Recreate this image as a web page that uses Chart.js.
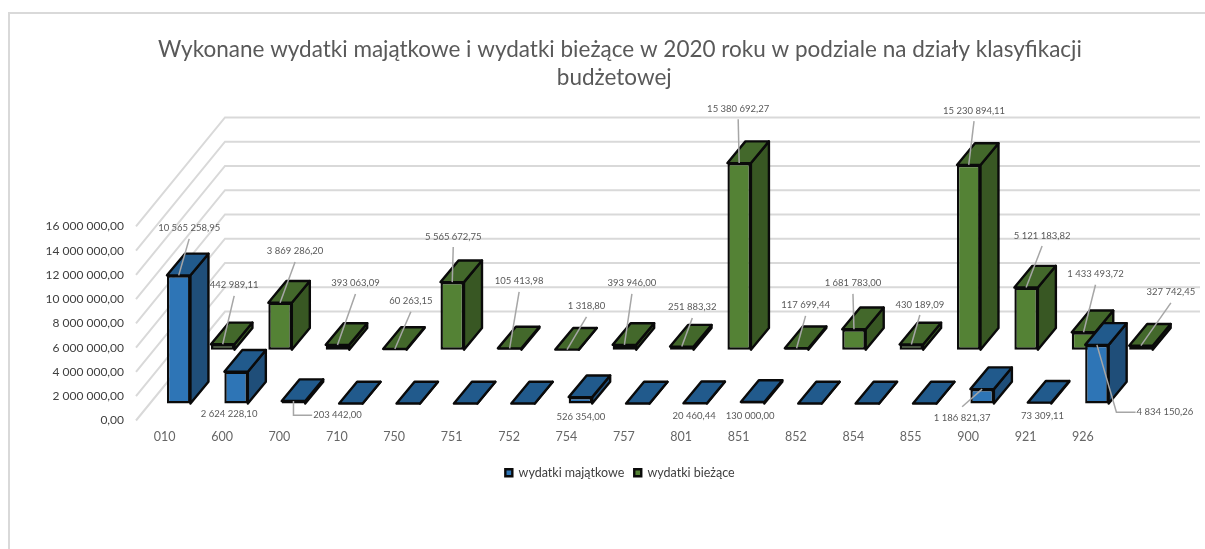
<!DOCTYPE html>
<html lang="pl">
<head>
<meta charset="utf-8">
<title>Wydatki 2020</title>
<style>
    html, body { margin: 0; padding: 0; background: #fff; }
    #frame { position: absolute; left: 8px; top: 12px; right: 0; bottom: 0; border-left: 2px solid #d9d9d9; border-top: 2px solid #d9d9d9; }
    #chart { position: absolute; left: 0; top: 0; }
</style>
<script src="https://cdn.jsdelivr.net/npm/chart.js@4"></script>
</head>
<body>
<div id="frame"></div>
<canvas id="chart" width="1205" height="549"></canvas>
<script>
const categories = ['010', '600', '700', '710', '750', '751', '752', '754', '757', '801', '851', '852', '854', '855', '900', '921', '926'];
const valueTicks = [0, 2000000, 4000000, 6000000, 8000000, 10000000, 12000000, 14000000, 16000000];

const wydatkiMajatkowe = [10565258.95, 2624228.10, 203442.00, 0, 0, 0, 0, 526354.00, 0, 20460.44, 130000.00, 0, 0, 0, 1186821.37, 73309.11, 4834150.26];
const wydatkiBiezace = [442989.11, 3869286.20, 393063.09, 60263.15, 5565672.75, 105413.98, 1318.80, 393946.00, 251883.32, 15380692.27, 117699.44, 1681783.00, 430189.09, 15230894.11, 5121183.82, 1433493.72, 327742.45];

// Where each value label sits, relative to the top of its bar: [dx, dy, leader, bend]
const majatkoweLabelSpots = [
    [10.5, -47, 'line'], [-7, 42.6], [44, 14.2, 'elbow', 0], null, null, null, null, [0.4, 20], null,
    [-1, 13], [-2.5, 14.3], null, null, null, [-20, 29, 'line'], [3, 13.6], [68, 67.4, 'elbow', 19.5]
];
const biezaceLabelSpots = [
    [11.5, -58.9, 'line'], [15, -51.3, 'line'], [18, -61.5, 'line'], [16, -47.6, 'line'], [1, -45.7, 'line'],
    [9.5, -67, 'line'], [19.5, -43.3, 'line'], [7.5, -61.5, 'line'], [10.5, -39.2, 'line'], [-1, -54.4, 'line'],
    [9, -42.9, 'line'], [-1, -45.9, 'line'], [8.5, -40, 'line'], [5.3, -54.2, 'line'], [16, -52, 'line'],
    [12, -58, 'line'], [30, -53.3, 'line']
];

const FONT = 'Lato, "Open Sans", sans-serif';
const DEPTH_X = 18;
const DEPTH_Y = 21.7;
const EDGE = '#0a0a0a';
const EDGE_WIDTH = 2.4;
const GRID = '#d9d9d9';

function formatPl(value) {
    const parts = value.toFixed(2).split('.');
    return parts[0].replace(/\B(?=(\d{3})+(?!\d))/g, ' ') + ',' + parts[1];
}

function polygon(ctx, pts, fill) {
    ctx.beginPath();
    pts.forEach((p, i) => (i ? ctx.lineTo(p[0], p[1]) : ctx.moveTo(p[0], p[1])));
    ctx.closePath();
    ctx.fillStyle = fill;
    ctx.fill();
    ctx.stroke();
}

// Back wall gridlines, running off the value axis ticks
const wallGrid = {
    id: 'wallGrid',
    beforeDatasetsDraw(chart) {
        const ctx = chart.ctx;
        const yScale = chart.scales.y;
        const xFront = 136;
        const xBack = 225;
        const rise = 109;
        ctx.save();
        ctx.strokeStyle = GRID;
        ctx.lineWidth = 2;
        yScale.ticks.forEach(t => {
            const y = yScale.getPixelForValue(t.value);
            ctx.beginPath();
            ctx.moveTo(xFront, y);
            ctx.lineTo(xBack, y - rise);
            ctx.lineTo(1200, y - rise);
            ctx.stroke();
        });
        ctx.restore();
    }
};

// Side and top faces of the bars; the front face is the normal Chart.js bar
const barDepth = {
    id: 'barDepth',
    beforeDatasetDraw(chart, args) {
        const ctx = chart.ctx;
        const ds = chart.data.datasets[args.index];
        ctx.save();
        ctx.strokeStyle = EDGE;
        ctx.lineWidth = EDGE_WIDTH;
        ctx.lineJoin = 'round';
        args.meta.data.forEach(el => {
            const x0 = el.x - el.width / 2;
            const x1 = el.x + el.width / 2;
            polygon(ctx, [[x1, el.y], [x1 + DEPTH_X, el.y - DEPTH_Y], [x1 + DEPTH_X, el.base - DEPTH_Y], [x1, el.base]], ds.sideColor);
            polygon(ctx, [[x0, el.y], [x1, el.y], [x1 + DEPTH_X, el.y - DEPTH_Y], [x0 + DEPTH_X, el.y - DEPTH_Y]], ds.topColor);
        });
        ctx.restore();
    }
};

const valueLabels = {
    id: 'valueLabels',
    afterDatasetsDraw(chart) {
        const ctx = chart.ctx;
        ctx.save();
        ctx.font = '9.5px ' + FONT;
        ctx.textAlign = 'center';
        ctx.textBaseline = 'middle';
        chart.data.datasets.forEach((ds, d) => {
            chart.getDatasetMeta(d).data.forEach((el, i) => {
                const spot = ds.labelSpots[i];
                if (!spot) return;
                const text = formatPl(ds.data[i]);
                const lx = el.x + spot[0];
                const ly = el.y + spot[1];
                if (spot[2]) {
                    ctx.beginPath();
                    ctx.strokeStyle = '#a6a6a6';
                    ctx.lineWidth = 1.5;
                    ctx.moveTo(el.x, el.y);
                    if (spot[2] === 'elbow') {
                        ctx.lineTo(el.x + spot[3], ly);
                        ctx.lineTo(lx - ctx.measureText(text).width / 2 - 1, ly);
                    } else {
                        ctx.lineTo(lx, ly + (spot[1] < 0 ? 10.5 : -11.4));
                    }
                    ctx.stroke();
                }
                ctx.fillStyle = '#595959';
                ctx.fillText(text, lx, ly);
            });
        });
        ctx.restore();
    }
};

new Chart(document.getElementById('chart'), {
    type: 'bar',
    data: {
        labels: categories,
        datasets: [
            {
                label: 'wydatki majątkowe',
                data: wydatkiMajatkowe,
                yAxisID: 'yMajatkowe',
                backgroundColor: '#2e75b6',
                sideColor: '#1f4e79',
                topColor: '#215a8c',
                labelSpots: majatkoweLabelSpots
            },
            {
                label: 'wydatki bieżące',
                data: wydatkiBiezace,
                yAxisID: 'yBiezace',
                backgroundColor: '#548235',
                sideColor: '#385723',
                topColor: '#43682b',
                labelSpots: biezaceLabelSpots
            }
        ]
    },
    options: {
        responsive: false,
        animation: false,
        events: [],
        layout: { padding: { left: 35, right: 0, top: 0, bottom: 60 } },
        datasets: {
            bar: {
                clip: false,
                borderColor: EDGE,
                borderWidth: EDGE_WIDTH,
                borderSkipped: false,
                categoryPercentage: 1.533,
                barPercentage: 0.534
            }
        },
        plugins: {
            title: {
                display: true,
                // trailing nbsp: the second line sits a little left of the first in the original
                text: ['Wykonane wydatki majątkowe i wydatki bieżące w 2020 roku w podziale na działy klasyfikacji', 'budżetowej\u00a0\u00a0'],
                color: '#595959',
                font: { family: FONT, size: 22.5, weight: 'normal', lineHeight: 1.244 },
                padding: { top: 36, bottom: 25.25 }
            },
            legend: {
                position: 'bottom',
                labels: { color: '#404040', boxWidth: 7, boxHeight: 7, padding: 10, font: { family: FONT, size: 12.5 } }
            },
            tooltip: { enabled: false }
        },
        scales: {
            x: {
                grid: { display: false, drawTicks: false },
                border: { display: false },
                afterFit(scale) { scale.height = 36; },
                ticks: { color: '#666666', font: { family: FONT, size: 12.5 }, padding: 9, labelOffset: -36, autoRotate: false, maxRotation: 0, autoSkip: false }
            },
            y: {
                min: 0,
                max: 25000000,
                grid: { display: false, drawTicks: false },
                border: { display: false },
                afterFit(scale) { scale.width = 137; },
                afterBuildTicks(scale) { scale.ticks = valueTicks.map(value => ({ value })); },
                ticks: { color: '#404040', font: { family: FONT, size: 12 }, padding: 48, callback: v => formatPl(v) }
            },
            // The two rows of bars stand on floors in front of the axis origin
            yMajatkowe: { display: false, min: -1400000, max: 23600000 },
            yBiezace: { display: false, min: -5840000, max: 19160000 },
            // Empty band on the right of the plot
            rightGutter: {
                position: 'right',
                grid: { display: false, drawTicks: false },
                border: { display: false },
                ticks: { display: false },
                afterFit(scale) { scale.width = 57.4; }
            }
        }
    },
    plugins: [wallGrid, barDepth, valueLabels]
});
</script>
</body>
</html>
